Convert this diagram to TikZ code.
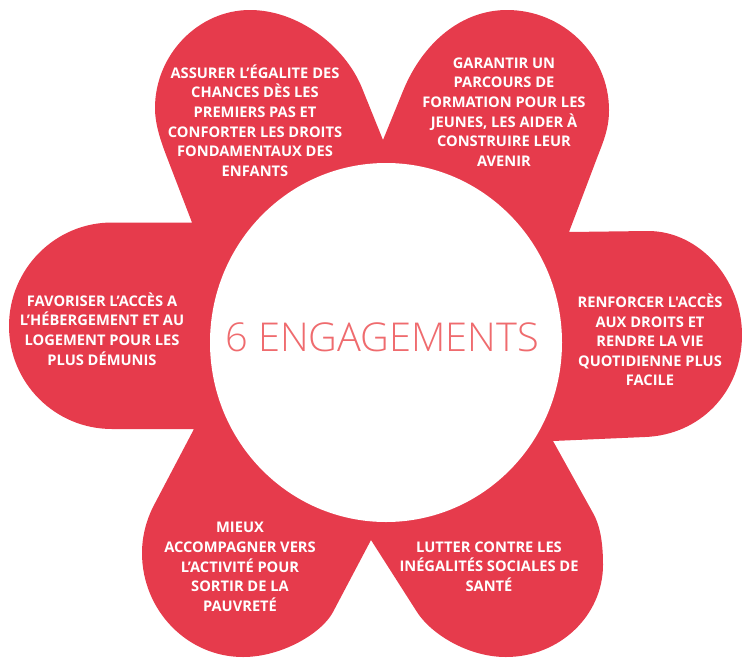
\documentclass[tikz,border=0pt]{standalone}
\usepackage{fontspec}
\newfontfamily\labelfont{Open Sans}
\newfontfamily\lightfont{Open Sans Light}
\definecolor{petalred}{HTML}{E63B4C}
\definecolor{titlered}{HTML}{EF6B6E}
\tikzset{
  petaltext/.style={text=white,align=center,inner sep=0pt,font=\fontsize{11}{14.7}\selectfont\labelfont\bfseries},
}
\begin{document}
\begin{tikzpicture}[x=0.75pt,y=-0.75pt]
\useasboundingbox (0,0) rectangle (742,657);
\fill[petalred]
  (383,140) -- (403,91)
  .. controls (423,42) and (462,10) .. (507,10)
  .. controls (563,10) and (609,55) .. (609,110)
  .. controls (609,128) and (604,140) .. (597,158)
  -- (569,232) -- (648,231)
  .. controls (700,231) and (742,280) .. (742,335)
  .. controls (742,392) and (700,435) .. (645,437)
  -- (553,441) -- (593,513)
  .. controls (601,527) and (603,546) .. (603,565)
  .. controls (603,615) and (560,657) .. (506,657)
  .. controls (468,657) and (431,634) .. (417,612)
  -- (371,540) -- (333,612)
  .. controls (322,633) and (282,657) .. (243,657)
  .. controls (187,657) and (142,610) .. (142,553)
  .. controls (142,537) and (146,521) .. (153,507)
  -- (194,429) -- (112,429)
  .. controls (55,429) and (9,383) .. (9,326)
  .. controls (9,269) and (55,222.5) .. (112,222.5)
  -- (192,222.5) -- (168,160)
  .. controls (161,142) and (155,125) .. (155,108)
  .. controls (155,55) and (198,10) .. (250,10)
  .. controls (298,10) and (345,46) .. (362,88)
  -- cycle;
\fill[white] (386,342.5) ellipse [x radius=176, y radius=179.5];
\node[text=titlered,inner sep=0pt,font=\fontsize{29.8}{32}\selectfont\lightfont] (title) at (382,337) {6 ENGAGEMENTS};
\node[petaltext] (ttl) at (255,120.5) {ASSURER L’ÉGALITE DES\\CHANCES DÈS LES\\PREMIERS PAS ET\\CONFORTER LES DROITS\\FONDAMENTAUX DES\\ENFANTS};
\node[petaltext] (ttr) at (504,112) {GARANTIR UN\\PARCOURS DE\\FORMATION POUR LES\\JEUNES, LES AIDER À\\CONSTRUIRE LEUR\\AVENIR};
\node[petaltext] (tri) at (650,340) {RENFORCER L'ACCÈS\\AUX DROITS ET\\RENDRE LA VIE\\QUOTIDIENNE PLUS\\FACILE};
\node[petaltext] (tle) at (102,329) {FAVORISER L’ACCÈS A\\L’HÉBERGEMENT ET AU\\LOGEMENT POUR LES\\PLUS DÉMUNIS};
\node[petaltext] (tbl) at (240,567) {MIEUX\\ACCOMPAGNER VERS\\L’ACTIVITÉ POUR\\SORTIR DE LA\\PAUVRETÉ};
\node[petaltext] (tbr) at (489,566.5) {LUTTER CONTRE LES\\INÉGALITÉS SOCIALES DE\\SANTÉ};
\end{tikzpicture}
\end{document}
